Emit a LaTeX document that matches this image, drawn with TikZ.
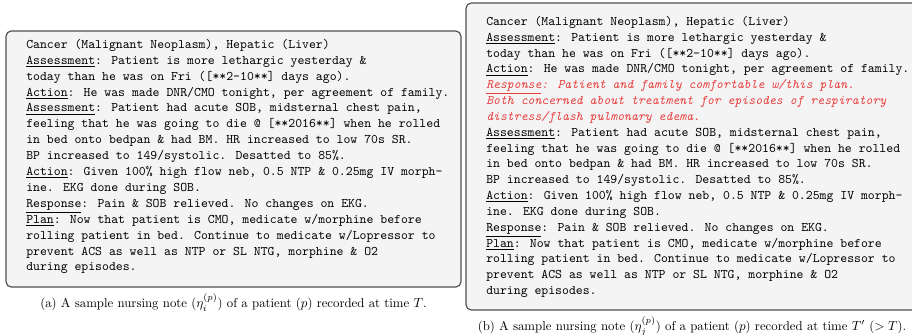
\documentclass[tikz,border=0pt]{standalone}
\definecolor{notefill}{RGB}{244,244,244}
\definecolor{noteline}{RGB}{80,80,80}
\definecolor{notered}{RGB}{232,62,62}
\tikzset{
  notebox/.style={draw=noteline, line width=0.9pt, fill=notefill, rounded corners=4pt},
  notetext/.style={anchor=north west, inner sep=0pt, align=left, font=\ttfamily\fontsize{10}{12.1}\selectfont},
  captext/.style={inner sep=0pt, font=\fontsize{9.75}{12}\selectfont}
}
\begin{document}
\begin{tikzpicture}[x=0.76107pt,y=-0.76107pt]
\clip (0,0) rectangle (912,335);
\useasboundingbox (0,0) rectangle (912,335);
% box (a)
\node[notebox, rectangle, minimum width=455*0.76107pt, minimum height=256*0.76107pt, inner sep=0pt] (boxa) at (233.5,159) {};
\node[notetext] (texta) at (26,39) {%
Cancer (Malignant Neoplasm), Hepatic (Liver)\\
\underline{Assessment}: Patient is more lethargic yesterday \&\\
today than he was on Fri ([**2-10**] days ago).\\
\underline{Action}: He was made DNR/CMO tonight, per agreement of family.\\
\underline{Assessment}: Patient had acute SOB, midsternal chest pain,\\
feeling that he was going to die @ [**2016**] when he rolled\\
in bed onto bedpan \& had BM. HR increased to low 70s SR.\\
BP increased to 149/systolic. Desatted to 85\%.\\
\underline{Action}: Given 100\% high flow neb, 0.5 NTP \& 0.25mg IV morph-\\
ine. EKG done during SOB.\\
\underline{Response}: Pain \& SOB relieved. No changes on EKG.\\
\underline{Plan}: Now that patient is CMO, medicate w/morphine before\\
rolling patient in bed. Continue to medicate w/Lopressor to\\
prevent ACS as well as NTP or SL NTG, morphine \& O2\\
during episodes.};
\node[captext] (capa) at (233.5,302.5) {(a) A sample nursing note ($\eta_i^{(p)}$) of a patient ($p$) recorded at time $T$.};
% box (b)
\node[notebox, rectangle, minimum width=452*0.76107pt, minimum height=307*0.76107pt, inner sep=0pt] (boxb) at (692,156.5) {};
\node[notetext, font=\ttfamily\fontsize{10}{12.05}\selectfont] (textb) at (486,16) {%
Cancer (Malignant Neoplasm), Hepatic (Liver)\\
\underline{Assessment}: Patient is more lethargic yesterday \&\\
today than he was on Fri ([**2-10**] days ago).\\
\underline{Action}: He was made DNR/CMO tonight, per agreement of family.\\
{\color{notered}\itshape\underline{Response}: Patient and family comfortable w/this plan.}\\
{\color{notered}\itshape Both concerned about treatment for episodes of respiratory}\\
{\color{notered}\itshape distress/flash pulmonary edema.}\\
\underline{Assessment}: Patient had acute SOB, midsternal chest pain,\\
feeling that he was going to die @ [**2016**] when he rolled\\
in bed onto bedpan \& had BM. HR increased to low 70s SR.\\
BP increased to 149/systolic. Desatted to 85\%.\\
\underline{Action}: Given 100\% high flow neb, 0.5 NTP \& 0.25mg IV morph-\\
ine. EKG done during SOB.\\
\underline{Response}: Pain \& SOB relieved. No changes on EKG.\\
\underline{Plan}: Now that patient is CMO, medicate w/morphine before\\
rolling patient in bed. Continue to medicate w/Lopressor to\\
prevent ACS as well as NTP or SL NTG, morphine \& O2\\
during episodes.};
\node[captext] (capb) at (692,326.5) {(b) A sample nursing note ($\eta_j^{(p)}$) of a patient ($p$) recorded at time $T'$ ($>T$).};
\end{tikzpicture}
\end{document}
